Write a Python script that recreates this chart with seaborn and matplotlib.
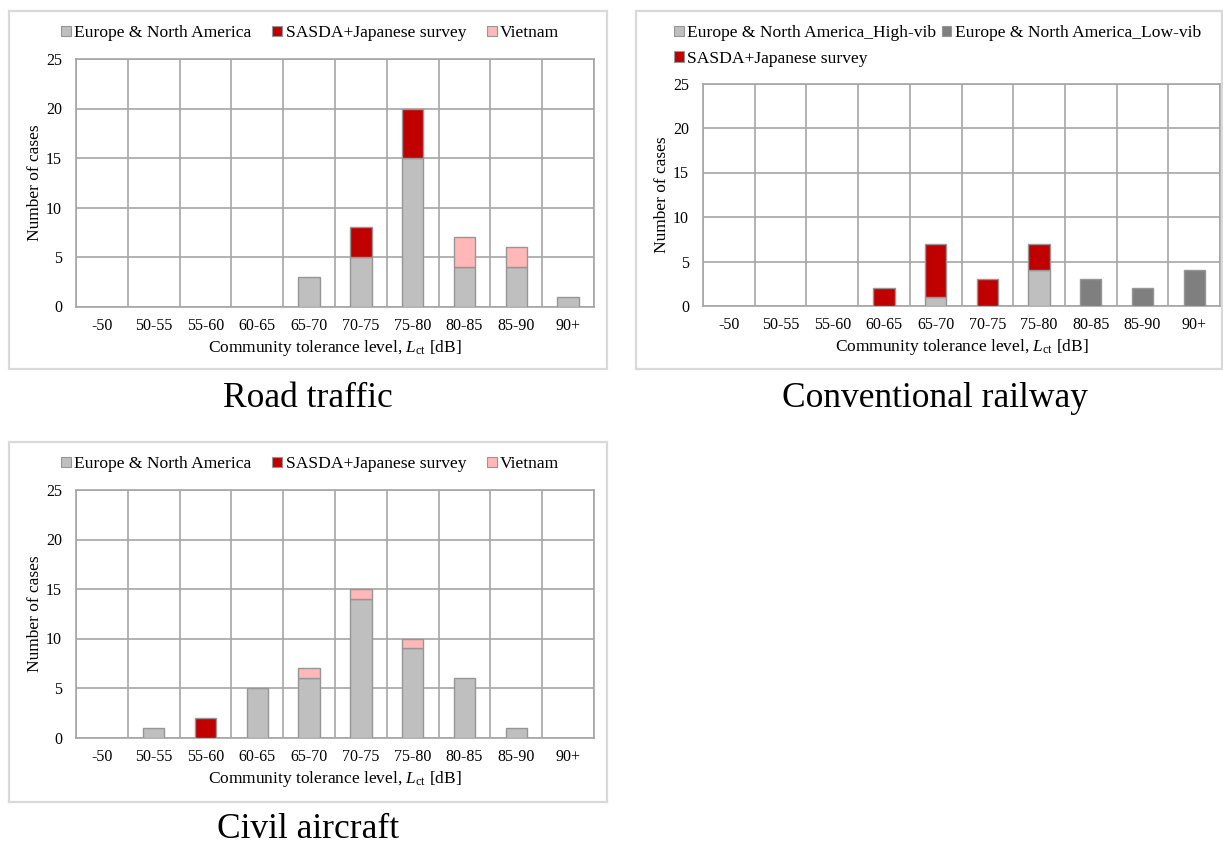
import numpy as np
import matplotlib
matplotlib.use("Agg")
import matplotlib.pyplot as plt
from matplotlib.patches import Patch, Rectangle
import seaborn as sns

# ---- data -------------------------------------------------------------
categories = ["-50", "50-55", "55-60", "60-65", "65-70",
              "70-75", "75-80", "80-85", "85-90", "90+"]

road_europe = [0, 0, 0, 0, 3, 5, 15, 4, 4, 1]
road_sasda = [0, 0, 0, 0, 0, 3, 5, 0, 0, 0]
road_vietnam = [0, 0, 0, 0, 0, 0, 0, 3, 2, 0]

rail_high_vib = [0, 0, 0, 0, 1, 0, 4, 0, 0, 0]
rail_low_vib = [0, 0, 0, 0, 0, 0, 0, 3, 2, 4]
rail_sasda = [0, 0, 0, 2, 6, 3, 3, 0, 0, 0]

air_europe = [0, 1, 0, 5, 6, 14, 9, 6, 1, 0]
air_sasda = [0, 0, 2, 0, 0, 0, 0, 0, 0, 0]
air_vietnam = [0, 0, 0, 0, 1, 1, 1, 0, 0, 0]

y_ticks = [0, 5, 10, 15, 20, 25]

# ---- style ------------------------------------------------------------
sns.set_theme(style="white")
plt.rcParams["font.family"] = ["Liberation Serif", "DejaVu Serif"]
plt.rcParams["mathtext.fontset"] = "custom"
plt.rcParams["mathtext.rm"] = "Liberation Serif"
plt.rcParams["mathtext.it"] = "Liberation Serif:italic"
plt.rcParams["text.color"] = "black"
plt.rcParams["axes.labelcolor"] = "black"

GREY = "#BFBFBF"
DARK_GREY = "#7F7F7F"
RED = "#C00000"
PINK = "#FFB7B7"
EDGE = "#969696"
GRID = "#A6A6A6"
FRAME = "#D9D9D9"
TICK = 11.5
LABEL = 12.5
LEG = 12.6
TITLE = 25.5

W, H = 1223, 848
fig = plt.figure(figsize=(W / 100, H / 100), dpi=100)


def fx(px):
    return px / W


def fy(py):
    return 1 - py / H


def add_axes(left, top, right, bottom):
    return fig.add_axes([fx(left), fy(bottom), (right - left) / W, (bottom - top) / H])


def draw_panel(ax, layers):
    base = np.zeros(len(categories))
    for label, vals, color in layers:
        vals = np.asarray(vals, dtype=float)
        sns.barplot(x=categories, y=vals, bottom=base, order=categories,
                    color=color, saturation=1, width=0.41, errorbar=None,
                    edgecolor=EDGE, linewidth=1.0, ax=ax, zorder=3)
        base = base + vals
    # hide outlines of empty segments
    for p in ax.patches:
        if p.get_height() == 0:
            p.set_linewidth(0)
    ax.set_xlim(-0.5, len(categories) - 0.5)
    ax.set_ylim(0, 25)
    ax.set_yticks(y_ticks)
    ax.set_xticks(range(len(categories)))
    ax.set_xticklabels(categories)
    ax.set_xticks(np.arange(-0.5, len(categories)), minor=True)
    ax.grid(which="major", axis="y", color=GRID, linewidth=1.2, zorder=0)
    ax.grid(which="minor", axis="x", color=GRID, linewidth=1.2, zorder=0)
    ax.grid(which="major", axis="x", visible=False)
    ax.set_axisbelow(True)
    for s in ax.spines.values():
        s.set_visible(True)
        s.set_color(GRID)
        s.set_linewidth(1.2)
    ax.tick_params(axis="both", which="both", length=0, labelsize=TICK,
                   colors="black")
    ax.tick_params(axis="x", pad=8)
    ax.tick_params(axis="y", pad=10)
    ax.set_ylabel("Number of cases", fontsize=LABEL, labelpad=2, color="black")
    ax.set_xlabel(r"Community tolerance level, $L_{\mathrm{ct}}$ [dB]",
                  fontsize=LABEL, labelpad=3, color="black")
    ax.set_facecolor("white")


def legend(handles, x, y, ncol, colsp):
    fig.legend(handles=handles, loc="upper left",
               bbox_to_anchor=(fx(x), fy(y)), bbox_transform=fig.transFigure,
               ncol=ncol, frameon=False, fontsize=LEG, borderpad=0,
               borderaxespad=0, handlelength=0.55, handleheight=0.55,
               handletextpad=0.2, columnspacing=colsp, labelspacing=0.56,
               labelcolor="black")


def frame(left, top, right, bottom):
    fig.patches.append(Rectangle((fx(left), fy(bottom)), (right - left) / W,
                                 (bottom - top) / H, transform=fig.transFigure,
                                 fill=False, edgecolor=FRAME, linewidth=1.6))


def box(color, label):
    return Patch(facecolor=color, edgecolor=EDGE, linewidth=0.8, label=label)


# ---- Road traffic -----------------------------------------------------
frame(9, 11, 607, 369)
ax1 = add_axes(76, 59, 594, 306.5)
draw_panel(ax1, [("Europe & North America", road_europe, GREY),
                 ("SASDA+Japanese survey", road_sasda, RED),
                 ("Vietnam", road_vietnam, PINK)])
legend([box(GREY, "Europe & North America"),
        box(RED, "SASDA+Japanese survey"),
        box(PINK, "Vietnam")], 61, 25, 3, 1.2)
fig.text(fx(308), fy(407), "Road traffic", fontsize=TITLE,
         ha="center", va="baseline")

# ---- Conventional railway ---------------------------------------------
frame(636, 11, 1222, 369)
ax2 = add_axes(703, 83.5, 1220, 306)
draw_panel(ax2, [("Europe & North America_High-vib", rail_high_vib, GREY),
                 ("Europe & North America_Low-vib", rail_low_vib, DARK_GREY),
                 ("SASDA+Japanese survey", rail_sasda, RED)])
legend([box(GREY, "Europe & North America_High-vib"),
        box(RED, "SASDA+Japanese survey"),
        box(DARK_GREY, "Europe & North America_Low-vib")], 674, 25, 2, 0.3)
fig.text(fx(935), fy(407), "Conventional railway", fontsize=TITLE,
         ha="center", va="baseline")

# ---- Civil aircraft ---------------------------------------------------
frame(9, 442, 607, 802)
ax3 = add_axes(76, 490, 594, 737.5)
draw_panel(ax3, [("Europe & North America", air_europe, GREY),
                 ("SASDA+Japanese survey", air_sasda, RED),
                 ("Vietnam", air_vietnam, PINK)])
legend([box(GREY, "Europe & North America"),
        box(RED, "SASDA+Japanese survey"),
        box(PINK, "Vietnam")], 61, 456, 3, 1.2)
fig.text(fx(308), fy(838.5), "Civil aircraft", fontsize=TITLE,
         ha="center", va="baseline")

fig.savefig("out.png", dpi=100, facecolor="white")
